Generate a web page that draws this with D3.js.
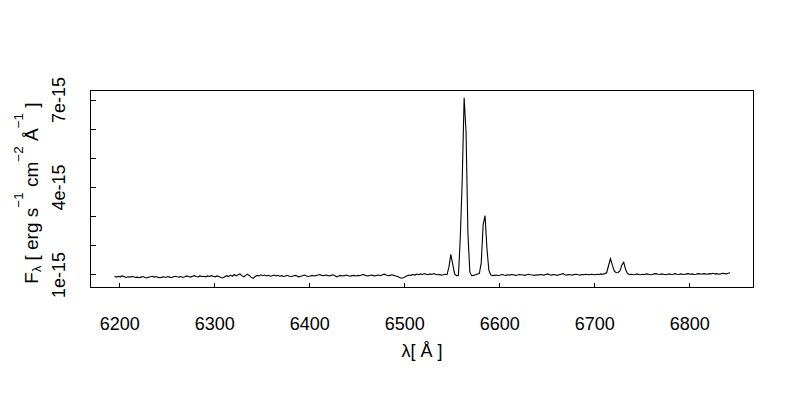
<!DOCTYPE html>
<html>
<head>
<meta charset="utf-8">
<script src="https://cdn.jsdelivr.net/npm/d3@7/dist/d3.min.js"></script>
<style>
  html, body { margin: 0; padding: 0; background: #fff; }
  svg { display: block; }
  text { font-family: "Liberation Sans", Arial, Helvetica, sans-serif; fill: #000; }
</style>
</head>
<body>
<svg id="chart" width="800" height="400"></svg>
<script>
// Wavelength grid (Angstrom): start and step of the sampled spectrum
const lambdaStart = 6195;
const lambdaStep = 2;

// Flux density in units of 1e-15 erg s^-1 cm^-2 A^-1
const flux = [
  // 6195 - 6299
  0.93,0.91,0.94,0.92,0.95,0.93,0.90,0.92,0.91,0.93,
  0.92,0.90,0.91,0.89,0.91,0.93,0.90,0.88,0.91,0.92,
  0.94,0.91,0.93,0.90,0.89,0.91,0.92,0.90,0.93,0.91,
  0.89,0.92,0.94,0.92,0.91,0.93,0.90,0.92,0.95,0.93,
  0.91,0.94,0.96,0.93,0.92,0.95,0.93,0.94,0.92,0.95,
  0.93,0.96,0.94,
  // 6301 - 6399
  0.92,0.95,0.93,0.90,0.88,0.92,0.96,0.93,0.98,0.94,
  1.00,0.95,0.99,1.02,0.96,0.92,0.97,1.01,0.96,0.90,
  0.87,0.93,0.97,0.95,0.99,0.96,0.98,0.95,0.97,0.94,
  0.96,0.98,0.95,0.97,0.94,0.96,0.93,0.95,0.97,0.94,
  0.93,0.95,0.97,0.95,0.92,0.94,0.96,0.98,0.95,0.93,
  // 6401 - 6499
  0.95,0.97,0.95,0.96,0.98,1.00,0.97,0.96,0.98,0.97,
  0.95,0.97,0.99,0.96,0.92,0.95,0.97,0.95,0.96,0.98,
  0.96,0.94,0.96,0.97,0.95,0.97,0.96,0.98,1.00,0.97,
  0.95,0.96,0.98,0.97,0.95,0.97,0.98,0.96,0.99,1.01,
  0.98,0.96,0.97,0.99,0.97,0.95,0.93,0.90,0.87,0.89,
  // 6501 - 6545
  0.92,0.96,0.98,0.97,1.00,0.98,1.01,0.99,1.02,1.00,
  1.03,1.01,0.99,1.02,1.00,1.03,1.01,0.99,1.00,0.98,
  0.99,1.01,1.00,
  // 6547 - 6593 : [NII] 6548, H-alpha, [NII] 6583
  1.25,1.69,1.35,1.02,0.96,0.97,
  2.30,4.25,7.06,5.90,2.40,1.08,0.96,0.97,0.99,1.02,
  1.03,1.40,2.70,3.02,1.90,1.15,0.99,0.96,
  // 6595 - 6711
  0.97,0.98,0.96,0.98,1.00,0.98,0.97,0.99,0.98,1.00,
  0.99,0.97,0.98,1.00,0.99,0.98,0.97,0.99,1.01,0.99,
  0.98,0.97,0.99,0.98,1.00,0.99,0.98,1.00,1.02,0.99,
  0.98,1.00,0.99,0.97,0.99,1.01,1.03,0.99,0.98,1.00,
  0.99,0.98,1.00,1.01,0.99,0.98,1.00,0.99,1.01,1.00,
  0.99,1.01,1.00,0.99,1.01,1.00,1.02,1.01,1.03,
  // 6713 - 6737 : [SII] doublet
  1.06,1.30,1.54,1.33,1.12,1.06,1.07,1.12,1.32,1.42,1.17,1.03,1.00,
  // 6739 - 6843
  1.01,0.99,1.00,1.02,1.00,0.99,1.01,1.00,1.02,1.01,
  0.99,1.00,1.02,1.03,1.01,1.00,1.02,1.01,0.99,1.01,
  1.02,1.00,1.01,1.03,1.01,1.00,1.02,1.01,1.00,1.02,
  1.03,1.01,1.02,1.00,1.01,1.03,1.02,1.01,1.03,1.02,
  1.01,1.03,1.02,1.04,1.02,1.03,1.01,1.02,1.04,1.03,
  1.02,1.04,1.06
];

const xTicks = [6200, 6300, 6400, 6500, 6600, 6700, 6800];
const yTicks = [1, 2, 3, 4, 5, 6, 7];          // in 1e-15
const yTickLabels = {1: "1e-15", 4: "4e-15", 7: "7e-15"};

const data = flux.map((f, i) => ({ lambda: lambdaStart + i * lambdaStep, f }));

const svg = d3.select("#chart");
const mLeft = 90.5, mRight = 753.5, mTop = 90.5, mBottom = 287.5;

const x = d3.scaleLinear().domain([6169.7, 6867.6]).range([mLeft, mRight]);
const y = d3.scaleLinear().domain([0.554, 7.309]).range([mBottom, mTop]);

// spectrum
const line = d3.line().x(d => x(d.lambda)).y(d => y(d.f));
svg.append("path")
  .datum(data)
  .attr("d", line)
  .attr("fill", "none")
  .attr("stroke", "#000")
  .attr("stroke-width", 1.1)
  .attr("stroke-linejoin", "miter");

// frame
svg.append("rect")
  .attr("x", mLeft).attr("y", mTop)
  .attr("width", mRight - mLeft).attr("height", mBottom - mTop)
  .attr("fill", "none").attr("stroke", "#000").attr("stroke-width", 1)
  .attr("shape-rendering", "crispEdges");

// x axis (ticks inward)
const xAxis = d3.axisBottom(x).tickValues(xTicks).tickSize(-5).tickFormat(d3.format("d"));
const gx = svg.append("g").attr("transform", `translate(0,${mBottom})`).call(xAxis);
gx.select(".domain").remove();
gx.selectAll("line").attr("stroke", "#000").attr("shape-rendering", "crispEdges");
gx.selectAll("text").attr("font-size", "18px").attr("font-family", "'Liberation Sans', Arial, sans-serif")
  .attr("fill", "#000").attr("y", 42).attr("dy", 0);

// y axis (ticks inward, rotated labels)
const yAxis = d3.axisLeft(y).tickValues(yTicks).tickSize(-5).tickFormat(d => yTickLabels[d] || "");
const gy = svg.append("g").attr("transform", `translate(${mLeft},0)`).call(yAxis);
gy.select(".domain").remove();
gy.selectAll("line").attr("stroke", "#000").attr("shape-rendering", "crispEdges");
gy.selectAll("text")
  .attr("font-size", "18px").attr("font-family", "'Liberation Sans', Arial, sans-serif")
  .attr("fill", "#000")
  .attr("x", null).attr("dy", null)
  .attr("text-anchor", "middle")
  .attr("transform", "translate(-25.5,0) rotate(-90)")
  .attr("y", 0);

// x label
svg.append("text")
  .attr("x", (mLeft + mRight) / 2).attr("y", 357)
  .attr("text-anchor", "middle").attr("font-size", "18px")
  .text("λ[ Å ]");

// y label with sub/superscripts
const yl = svg.append("text")
  .attr("text-anchor", "middle").attr("font-size", "19px")
  .attr("transform", `translate(38,193) rotate(-90)`);
yl.append("tspan").text("F");
yl.append("tspan").attr("font-size", "12.5px").attr("dy", 3).text("λ");
yl.append("tspan").attr("dy", -3).text(" [ erg s");
yl.append("tspan").attr("font-size", "13.5px").attr("dy", -15).text("−1");
yl.append("tspan").attr("dy", 15).text(" cm");
yl.append("tspan").attr("font-size", "13.5px").attr("dy", -15).text("−2");
yl.append("tspan").attr("dy", 15).text(" Å");
yl.append("tspan").attr("font-size", "13.5px").attr("dy", -15).text("−1");
yl.append("tspan").attr("dy", 15).text("  ]");
</script>
</body>
</html>
